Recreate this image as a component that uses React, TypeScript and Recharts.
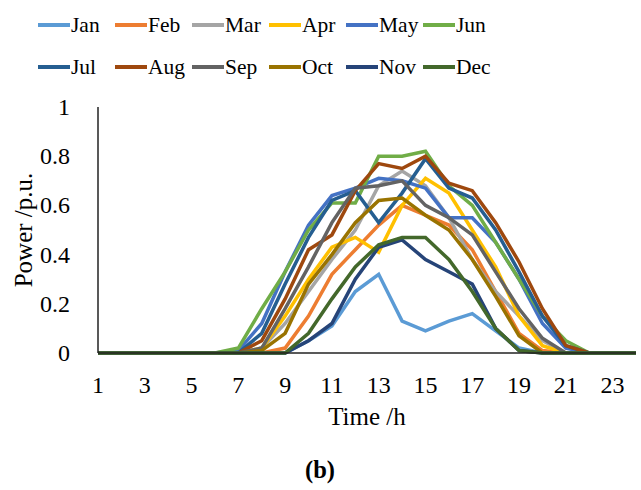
import React from 'react';
import { LineChart, Line, XAxis, YAxis, Label } from 'recharts';

const hours = Array.from({ length: 24 }, (_, i) => i + 1);

const jan = [0, 0, 0, 0, 0, 0, 0, 0, 0, 0.05, 0.11, 0.25, 0.32, 0.13, 0.09, 0.13, 0.16, 0.09, 0.02, 0, 0, 0, 0, 0];
const feb = [0, 0, 0, 0, 0, 0, 0, 0, 0.02, 0.15, 0.32, 0.42, 0.52, 0.6, 0.56, 0.52, 0.42, 0.25, 0.08, 0.01, 0, 0, 0, 0];
const mar = [0, 0, 0, 0, 0, 0, 0, 0.02, 0.12, 0.25, 0.38, 0.5, 0.68, 0.74, 0.68, 0.55, 0.38, 0.25, 0.15, 0.05, 0, 0, 0, 0];
const apr = [0, 0, 0, 0, 0, 0, 0, 0.02, 0.15, 0.3, 0.43, 0.47, 0.41, 0.6, 0.71, 0.65, 0.5, 0.35, 0.15, 0.03, 0, 0, 0, 0];
const may = [0, 0, 0, 0, 0, 0, 0.01, 0.12, 0.33, 0.52, 0.64, 0.67, 0.71, 0.7, 0.67, 0.55, 0.55, 0.45, 0.3, 0.12, 0.02, 0, 0, 0];
const jun = [0, 0, 0, 0, 0, 0, 0.02, 0.18, 0.33, 0.5, 0.61, 0.61, 0.8, 0.8, 0.82, 0.68, 0.6, 0.45, 0.3, 0.15, 0.05, 0, 0, 0];
const jul = [0, 0, 0, 0, 0, 0, 0, 0.08, 0.28, 0.47, 0.62, 0.66, 0.53, 0.65, 0.79, 0.67, 0.63, 0.5, 0.33, 0.15, 0.03, 0, 0, 0];
const aug = [0, 0, 0, 0, 0, 0, 0, 0.05, 0.22, 0.42, 0.48, 0.66, 0.77, 0.75, 0.8, 0.69, 0.66, 0.53, 0.37, 0.18, 0.03, 0, 0, 0];
const sep = [0, 0, 0, 0, 0, 0, 0, 0.02, 0.18, 0.35, 0.53, 0.67, 0.68, 0.7, 0.6, 0.55, 0.48, 0.33, 0.18, 0.06, 0, 0, 0, 0];
const oct = [0, 0, 0, 0, 0, 0, 0, 0.01, 0.08, 0.28, 0.4, 0.53, 0.62, 0.63, 0.56, 0.5, 0.38, 0.23, 0.07, 0, 0, 0, 0, 0];
const nov = [0, 0, 0, 0, 0, 0, 0, 0, 0, 0.05, 0.12, 0.3, 0.43, 0.46, 0.38, 0.33, 0.28, 0.1, 0.01, 0, 0, 0, 0, 0];
const dec = [0, 0, 0, 0, 0, 0, 0, 0, 0, 0.08, 0.22, 0.35, 0.44, 0.47, 0.47, 0.38, 0.25, 0.1, 0.01, 0, 0, 0, 0, 0];

const months = ['Jan', 'Feb', 'Mar', 'Apr', 'May', 'Jun', 'Jul', 'Aug', 'Sep', 'Oct', 'Nov', 'Dec'];
const monthValues = [jan, feb, mar, apr, may, jun, jul, aug, sep, oct, nov, dec];
const colors = ['#5B9BD5', '#ED7D31', '#A5A5A5', '#FFC000', '#4472C4', '#70AD47', '#255E91', '#9E480E', '#636363', '#997300', '#264478', '#43682B'];

const yTicks = [0, 0.2, 0.4, 0.6, 0.8, 1];

const data = hours.map((h, i) => {
  const row: Record<string, number> = { hour: h };
  months.forEach((m, k) => { row[m] = monthValues[k][i]; });
  return row;
});

const font = 'Liberation Serif';
const txt = { fontFamily: font, fill: '#000' };

// tick renderers use CSS style so the serif face sticks
const XTick = ({ x, y, payload }: any) => (
  <text x={x} y={y} dy={16} textAnchor="middle" style={{ ...txt, fontSize: 24 }}>{payload.value}</text>
);
const YTick = ({ x, y, payload }: any) => (
  <text x={x} y={y} dy={8} textAnchor="end" style={{ ...txt, fontSize: 24 }}>{payload.value}</text>
);

const Legend = () => (
  <svg width={641} height={90} style={{ position: 'absolute', left: 0, top: 0 }}>
    {months.map((m, k) => {
      const x = 38 + (k % 6) * 77;
      const y = k < 6 ? 25 : 67;
      return (
        <g key={m}>
          <line x1={x} x2={x + 32} y1={y} y2={y} stroke={colors[k]} strokeWidth={4} />
          <text x={x + 33} y={y + 7} style={{ ...txt, fontSize: 21.5 }}>{m}</text>
        </g>
      );
    })}
  </svg>
);

export default function App() {
  return (
    <div style={{ position: 'absolute', left: 0, top: 0, width: 641, height: 490, background: '#fff' }}>
      <LineChart width={641} height={490} data={data} margin={{ top: 107, right: 5, bottom: 65, left: 48 }}>
        <XAxis
          dataKey="hour"
          interval={1}
          tickLine={false}
          tickMargin={18}
          height={72}
          stroke="#222"
          strokeWidth={1.5}
          tick={<XTick />}
        >
          <Label value="Time /h" position="insideBottom" offset={0} style={{ ...txt, fontSize: 25 }} />
        </XAxis>
        <YAxis
          type="number"
          domain={[0, 1]}
          ticks={yTicks}
          tickLine={false}
          tickMargin={22}
          width={50}
          stroke="#222"
          strokeWidth={1.5}
          tick={<YTick />}
        >
          <Label value="Power /p.u." angle={-90} position="insideLeft" offset={-25} style={{ ...txt, fontSize: 25, textAnchor: 'middle' }} />
        </YAxis>
        {months.map((m, k) => (
          <Line key={m} dataKey={m} stroke={colors[k]} strokeWidth={3.5} dot={false} isAnimationActive={false} />
        ))}
      </LineChart>
      <Legend />
      <svg width={641} height={40} style={{ position: 'absolute', left: 0, top: 450 }}>
        <text x={320} y={28} textAnchor="middle" style={{ ...txt, fontSize: 24.5, fontWeight: 'bold' }}>(b)</text>
      </svg>
    </div>
  );
}
